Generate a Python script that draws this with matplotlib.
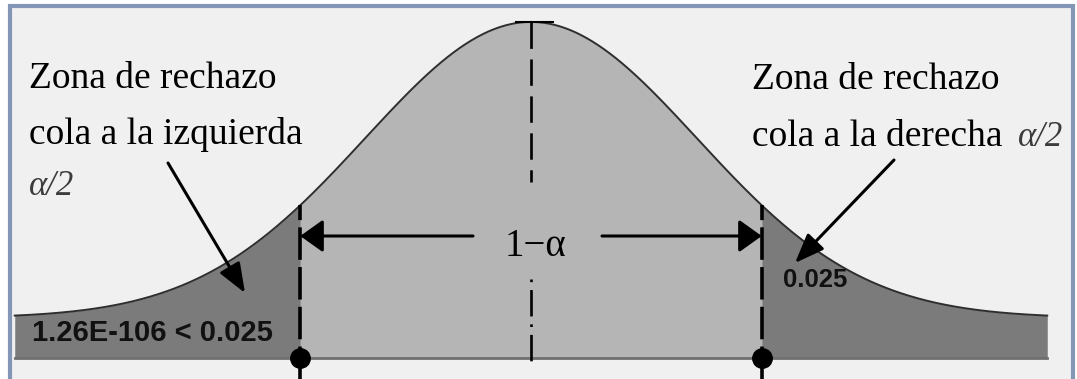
import numpy as np
import matplotlib.pyplot as plt
from matplotlib.patches import Rectangle

# standard normal diagram, values in z units
z_ends = [-3.11, 3.11]
z_crit = [-1.39, 1.39]
tail_floor = 0.054  # the drawing keeps the tails lifted off the axis

left_lines = ["Zona de rechazo", "cola a la izquierda"]
right_lines = ["Zona de rechazo", "cola a la derecha"]
alpha_half = "α/2"
center_label = "1−α"
left_value = "1.26E-106 < 0.025"
right_value = "0.025"

W, H = 1077, 379
SERIF = 'Liberation Serif'
SANS = 'Liberation Sans'
XS, YS = 166, 742  # px per data unit
X0, Y0 = 531, 358  # pixel of z=0 on the axis line


def px(x, y):
    # pixel (from top-left) -> figure fraction
    return x / W, 1 - y / H


def dens(z):
    return np.exp(-np.asarray(z) ** 2 / 2) / np.sqrt(2 * np.pi) + tail_floor


fig = plt.figure(figsize=(W / 100, H / 100), dpi=100, facecolor='white')
ax = fig.add_axes([0, 0, 1, 1])
ax.set_facecolor('none')
ax.axis('off')
ax.set_xlim(-X0 / XS, (W - X0) / XS)
ax.set_ylim(-(H - Y0) / YS, Y0 / YS)

# frame
fx, fy = px(10, 392)
ax.add_patch(Rectangle((fx, fy), (1072.5 - 10) / W, (392 - 6) / H,
                       transform=fig.transFigure, facecolor='#f0f0f0',
                       edgecolor='#8396b6', lw=3, zorder=0, clip_on=False))

zl = np.linspace(z_ends[0], z_crit[0], 200)
zc = np.linspace(z_crit[0], z_crit[1], 300)
zr = np.linspace(z_crit[1], z_ends[1], 200)

ax.fill_between(zc, 0, dens(zc), color='#b5b5b5', lw=0, zorder=1)
ax.fill_between(zl, 0, dens(zl), color='#7b7b7b', lw=0, zorder=1)
ax.fill_between(zr, 0, dens(zr), color='#7b7b7b', lw=0, zorder=1)

z = np.linspace(z_ends[0], z_ends[1], 700)
ax.plot(z, dens(z), color='#2e2e2e', lw=1.4, zorder=2)
ax.plot(z_ends, [0, 0], color='#6f6f6f', lw=2, zorder=2)

# centre line, broken around the 1-alpha label
peak = float(dens(0))
ax.plot([0, 0], [peak, 176 / YS], color='black', lw=1.9, ls=(0, (10, 4)), zorder=3)
ax.plot([0, 0], [79 / YS, -7 / YS], color='black', lw=1.9, ls=(0, (1, 3, 10, 3)), zorder=3)
ax.plot([-0.09, 0.13], [peak, peak], color='black', lw=1.5, zorder=3)

ybot = ax.get_ylim()[0]
for zv in z_crit:
    ax.plot([zv, zv], [ybot, float(dens(zv))], color='black', lw=2.6,
            ls=(0, (9, 2)), zorder=3)
    ax.plot(zv, 0, 'o', color='black', ms=14, zorder=4)

# 1 - alpha arrows
y_arrow = (Y0 - 236) / YS
head = dict(arrowstyle='-|>,head_length=0.7,head_width=0.5', mutation_scale=20,
            color='black', lw=2.2, shrinkA=0, shrinkB=0)
ax.annotate('', xy=(z_crit[0], y_arrow), xytext=((473 - X0) / XS, y_arrow), arrowprops=head, zorder=4)
ax.annotate('', xy=(z_crit[1], y_arrow), xytext=((602 - X0) / XS, y_arrow), arrowprops=head, zorder=4)

# pointers into the tails
diag = dict(arrowstyle='-|>,head_length=0.9,head_width=0.35', mutation_scale=20,
            color='black', lw=2.2, shrinkA=0, shrinkB=0)
ax.annotate('', xy=((245 - X0) / XS, (Y0 - 293) / YS), xytext=((168 - X0) / XS, (Y0 - 163) / YS),
            arrowprops=diag, zorder=4)
ax.annotate('', xy=((795 - X0) / XS, (Y0 - 263) / YS), xytext=((894 - X0) / XS, (Y0 - 160) / YS),
            arrowprops=diag, zorder=4)


def label(x, y, s, **kw):
    lx, ly = px(x, y)
    fig.text(lx, ly, s, va='baseline', **kw)


label(29, 88, left_lines[0], family=SERIF, fontsize=27)
label(29, 144, left_lines[1], family=SERIF, fontsize=27)
label(29, 195, alpha_half, family=SERIF, fontsize=25, style='italic', color='#3c3c3c')
label(752, 89, right_lines[0], family=SERIF, fontsize=27)
label(752, 146, right_lines[1], family=SERIF, fontsize=27)
label(1018, 146, alpha_half, family=SERIF, fontsize=25, style='italic', color='#3c3c3c')
label(535, 256, center_label, family=SERIF, fontsize=28, ha='center')
label(32, 341, left_value, family=SANS, fontsize=21, fontweight='bold', color='#111111')
label(783, 287, right_value, family=SANS, fontsize=18.5, fontweight='bold', color='#111111')

fig.savefig('out.png', dpi=100, facecolor='white')
